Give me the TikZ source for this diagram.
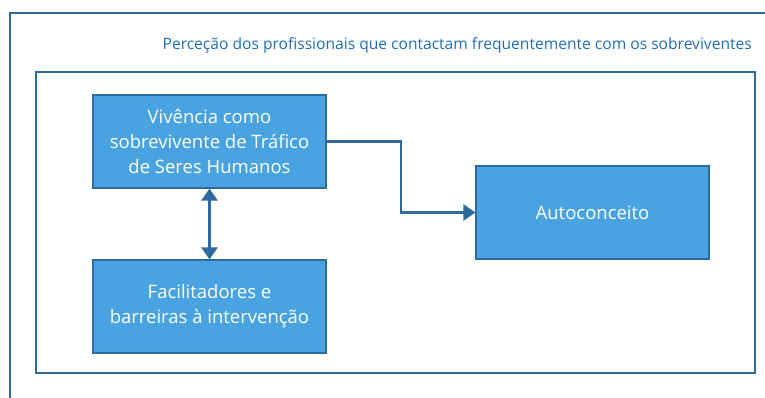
\documentclass[tikz,border=0pt]{standalone}
\usepackage{fontspec}
\setmainfont{Open Sans}
\usetikzlibrary{arrows.meta}
\definecolor{boxfill}{HTML}{48A3E0}
\definecolor{boxline}{HTML}{2E6A9E}
\definecolor{titlecol}{HTML}{1F6FB5}
\tikzset{
    every node/.style={inner sep=0mm},
    block/.style={rectangle, draw=boxline, fill=boxfill, line width=1.2pt, minimum width=233pt, minimum height=93pt, text=white, align=center, font=\fontsize{18.5}{25}\selectfont},
    tip/.style={Triangle[length=12pt,width=16pt]},
    link/.style={draw=boxline, line width=2.8pt, -{Triangle[length=12pt,width=16pt]}}
}
\begin{document}
\begin{tikzpicture}[x=1pt, y=-1pt]
        \useasboundingbox (0,0) rectangle (765,397);
        \draw [boxline, line width=2pt] (10,420) -- (10,13) -- (790,13);
        \draw [boxline, line width=2pt] (36,72) rectangle (755,373);
        \node (title) [anchor=east, text=titlecol, font=\fontsize{15.6}{18}\selectfont] at (752,45) {Perceção dos profissionais que contactam frequentemente com os sobreviventes};
        \node (vivencia) [block] at (209.5,141.5) {Vivência como\\sobrevivente de Tráfico\\de Seres Humanos};
        \node (facilit) [block] at (209.5,306.5) {Facilitadores e\\barreiras à intervenção};
        \node (auto) [block] at (592.5,212.5) {Autoconceito};
        \draw [link, {Triangle[length=12pt,width=16pt]}-{Triangle[length=12pt,width=16pt]}] (vivencia) -- (facilit);
        \draw [link] (vivencia.east) -| (401,212.5) -- (auto.west);
\end{tikzpicture}
\end{document}
